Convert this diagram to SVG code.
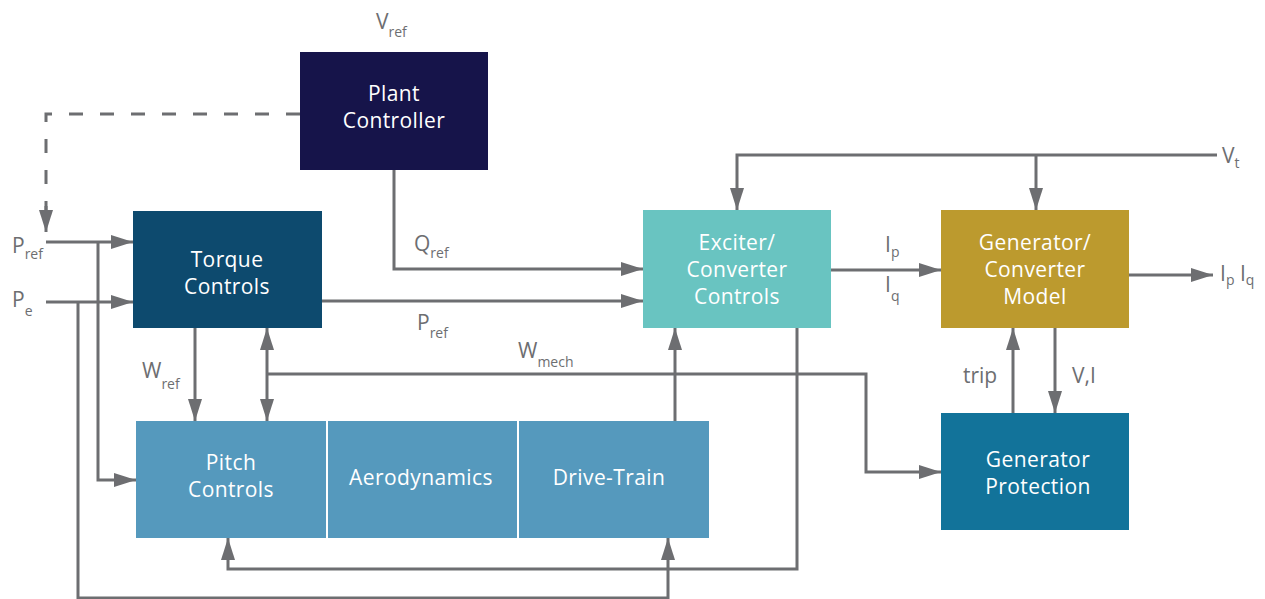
<svg xmlns="http://www.w3.org/2000/svg" width="1265" height="599" viewBox="0 0 1265 599">
<style>
.ln{fill:none;stroke:#6d6e71;stroke-width:3}
.ds{fill:none;stroke:#6d6e71;stroke-width:3;stroke-dasharray:14 17}
.bt{font-family:"Open Sans","Liberation Sans",sans-serif;font-size:21px;letter-spacing:0.4px;fill:#ffffff;text-anchor:middle}
.lb{font-family:"Open Sans","Liberation Sans",sans-serif;font-size:21px;fill:#6d6e71}
.sb{font-size:14px}
</style>
<defs>
<marker id="ah" markerUnits="userSpaceOnUse" markerWidth="22" markerHeight="14" refX="22" refY="7" orient="auto-start-reverse" viewBox="0 0 22 14">
<path d="M0,0 L22,7 L0,14 z" fill="#6d6e71"/>
</marker>
</defs>
<rect width="1265" height="599" fill="#ffffff"/>
<g id="connectors">
<path class="ds" d="M300,114 H46 V210"/>
<path class="ln" d="M46,206 V232" marker-end="url(#ah)"/>
<path class="ln" d="M46,242 H133" marker-end="url(#ah)"/>
<path class="ln" d="M46,302 H133" marker-end="url(#ah)"/>
<path class="ln" d="M98,242 V480 H136" marker-end="url(#ah)"/>
<path class="ln" d="M78,302 V598 H668 V538" marker-end="url(#ah)"/>
<path class="ln" d="M394,170 V269 H643" marker-end="url(#ah)"/>
<path class="ln" d="M322,301 H643" marker-end="url(#ah)"/>
<path class="ln" d="M195,328 V421" marker-end="url(#ah)"/>
<path class="ln" d="M267,328 V421" marker-start="url(#ah)" marker-end="url(#ah)"/>
<path class="ln" d="M267,374 H866 V472 H941" marker-end="url(#ah)"/>
<path class="ln" d="M675,421 V328" marker-end="url(#ah)"/>
<path class="ln" d="M797,328 V569 H228 V538" marker-end="url(#ah)"/>
<path class="ln" d="M1217,155 H737 V210" marker-end="url(#ah)"/>
<path class="ln" d="M1036,155 V210" marker-end="url(#ah)"/>
<path class="ln" d="M831,270 H941" marker-end="url(#ah)"/>
<path class="ln" d="M1129,275 H1213" marker-end="url(#ah)"/>
<path class="ln" d="M1013,413 V328" marker-end="url(#ah)"/>
<path class="ln" d="M1055,328 V413" marker-end="url(#ah)"/>
</g>
<g id="plant-controller">
<rect x="300" y="52" width="188" height="118" fill="#16144a"/>
<text class="bt" x="394" y="101">Plant</text>
<text class="bt" x="394" y="128">Controller</text>
</g>
<g id="torque-controls">
<rect x="133" y="211" width="189" height="117" fill="#0d4a6e"/>
<text class="bt" x="227" y="267">Torque</text>
<text class="bt" x="227" y="294">Controls</text>
</g>
<g id="exciter-controls">
<rect x="643" y="210" width="188" height="118" fill="#69c4c1"/>
<text class="bt" x="737" y="250">Exciter/</text>
<text class="bt" x="737" y="277">Converter</text>
<text class="bt" x="737" y="304">Controls</text>
</g>
<g id="generator-model">
<rect x="941" y="210" width="188" height="118" fill="#bc9a2e"/>
<text class="bt" x="1035" y="250">Generator/</text>
<text class="bt" x="1035" y="277">Converter</text>
<text class="bt" x="1035" y="304">Model</text>
</g>
<g id="generator-protection">
<rect x="941" y="413" width="188" height="117" fill="#12739a"/>
<text class="bt" x="1038" y="467">Generator</text>
<text class="bt" x="1038" y="494">Protection</text>
</g>
<g id="pitch-controls">
<rect x="136" y="421" width="190" height="117" fill="#5599bd"/>
<text class="bt" x="231" y="470">Pitch</text>
<text class="bt" x="231" y="497">Controls</text>
</g>
<g id="aerodynamics">
<rect x="328" y="421" width="189" height="117" fill="#5599bd"/>
<text class="bt" x="421" y="485">Aerodynamics</text>
</g>
<g id="drive-train">
<rect x="519" y="421" width="190" height="117" fill="#5599bd"/>
<text class="bt" x="609" y="485">Drive-Train</text>
</g>
<g id="labels">
<text class="lb" x="376" y="29">V<tspan class="sb" dy="8">ref</tspan></text>
<text class="lb" x="12" y="253">P<tspan class="sb" dy="6">ref</tspan></text>
<text class="lb" x="12" y="307">P<tspan class="sb" dy="9">e</tspan></text>
<text class="lb" x="414" y="251">Q<tspan class="sb" dy="7">ref</tspan></text>
<text class="lb" x="417" y="330">P<tspan class="sb" dy="8">ref</tspan></text>
<text class="lb" x="518" y="358">W<tspan class="sb" dy="9">mech</tspan></text>
<text class="lb" x="142" y="378">W<tspan class="sb" dy="11">ref</tspan></text>
<text class="lb" x="885" y="252">I<tspan class="sb" dy="5">p</tspan></text>
<text class="lb" x="885" y="292">I<tspan class="sb" dy="9">q</tspan></text>
<text class="lb" x="1220" y="281">I<tspan class="sb" dy="4">p</tspan><tspan dy="-4"> I</tspan><tspan class="sb" dy="4">q</tspan></text>
<text class="lb" x="1222" y="163">V<tspan class="sb" dy="5">t</tspan></text>
<text class="lb" x="963" y="383">trip</text>
<text class="lb" x="1072" y="383">V,I</text>
</g>
</svg>
